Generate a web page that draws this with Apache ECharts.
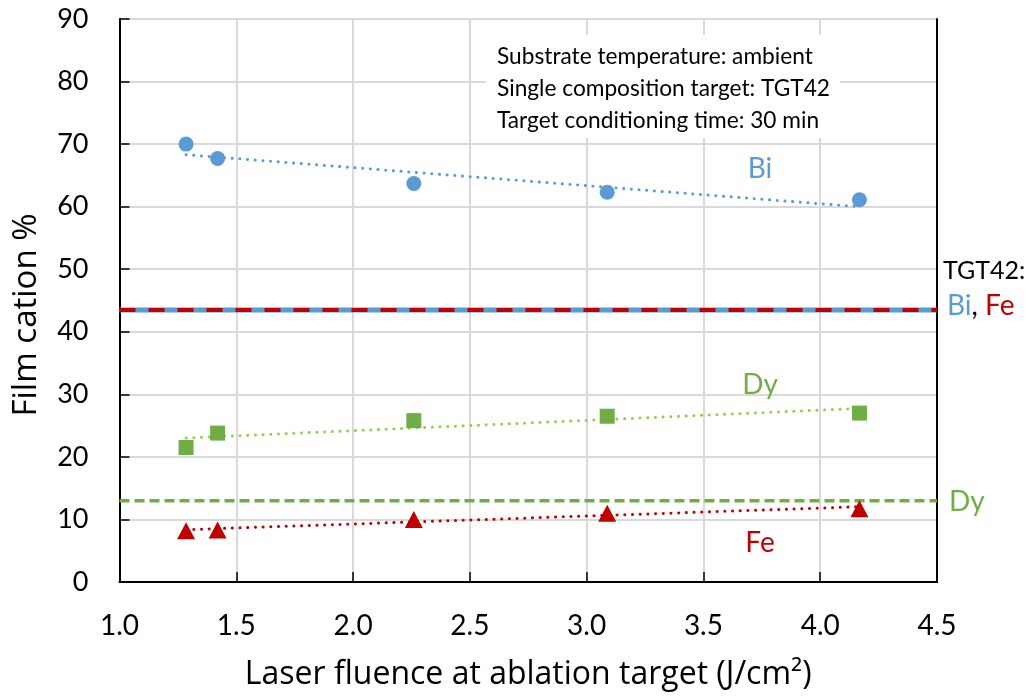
<!DOCTYPE html>
<html><head><meta charset="utf-8">
<script src="https://cdn.jsdelivr.net/npm/echarts@6/dist/echarts.min.js"></script>
<style>html,body{margin:0;padding:0;background:#fff}#c{width:1034px;height:698px}</style>
</head><body><div id="c"></div>
<script>
// Data
const fluenceBi = [1.285, 1.42, 2.26, 3.088, 4.168];
const valuesBi  = [70.0, 67.7, 63.7, 62.3, 61.1];
const fluenceDy = [1.285, 1.42, 2.26, 3.088, 4.168];
const valuesDy  = [21.5, 23.8, 25.8, 26.5, 27.0];
const fluenceFe = [1.285, 1.42, 2.26, 3.088, 4.168];
const valuesFe  = [8.2, 8.3, 10.0, 11.0, 11.7];
const targetBiFe = 43.5;   // TGT42 Bi, Fe composition
const targetDy = 13.0;     // TGT42 Dy composition
const xRange = [1.0, 4.5];
const yRange = [0, 90];

function pairs(xs, ys){ return xs.map((x,i)=>[x, ys[i]]); }
function trend(xs, ys){
  const n = xs.length;
  const mx = xs.reduce((a,b)=>a+b,0)/n, my = ys.reduce((a,b)=>a+b,0)/n;
  let sxy=0, sxx=0;
  for(let i=0;i<n;i++){ sxy+=(xs[i]-mx)*(ys[i]-my); sxx+=(xs[i]-mx)**2; }
  const b = sxy/sxx, a = my - b*mx;
  const x0 = Math.min(...xs), x1 = Math.max(...xs);
  return [[x0, a+b*x0],[x1, a+b*x1]];
}

const BLUE='#5B9BD5', RED='#C00000', GREEN='#70AD47', LGREEN='#92D050';
const FONT='Lato';
const chart = echarts.init(document.getElementById('c'), null, {renderer:'canvas'});
const dotted = (c)=>({color:c, width:3, type:[0.1,7.6], cap:'round'});

chart.setOption({
  animation:false,
  grid:{left:119.5, right:97, top:19, bottom:116},
  xAxis:{type:'value', min:xRange[0], max:xRange[1], interval:0.5,
    name:'Laser fluence at ablation target (J/cm²)', nameLocation:'middle', nameGap:77,
    nameTextStyle:{fontFamily:'Open Sans', fontSize:32, color:'#000'},
    axisLine:{lineStyle:{color:'#000', width:2}},
    axisTick:{inside:true, length:10, lineStyle:{color:'#000', width:1.5}},
    axisLabel:{fontFamily:FONT, fontSize:28, color:'#000', margin:44, verticalAlign:'middle', formatter:v=>v.toFixed(1)},
    splitLine:{show:true, lineStyle:{color:'#D9D9D9', width:2}}
  },
  yAxis:[{type:'value', min:yRange[0], max:yRange[1], interval:10,
    axisLine:{show:true, lineStyle:{color:'#000', width:2}},
    axisTick:{show:true, inside:true, length:10, lineStyle:{color:'#000', width:1.5}},
    axisLabel:{fontFamily:FONT, fontSize:27, color:'#000', margin:31},
    splitLine:{show:true, lineStyle:{color:'#D9D9D9', width:2}}
  },{type:'value', min:yRange[0], max:yRange[1], interval:10, position:'right',
    axisLine:{show:true, lineStyle:{color:'#000', width:2}},
    axisTick:{show:false}, axisLabel:{show:false}, splitLine:{show:false}
  }],
  series:[
    {type:'line', data:[[xRange[0],targetBiFe],[xRange[1],targetBiFe]], symbol:'none', lineStyle:{color:BLUE, width:5}, z:2},
    {type:'line', data:[[xRange[0],targetBiFe],[xRange[1],targetBiFe]], symbol:'none', lineStyle:{color:RED, width:4, type:[16,13]}, z:3},
    {type:'line', data:[[xRange[0],targetDy],[xRange[1],targetDy]], symbol:'none', lineStyle:{color:GREEN, width:3.5, type:[10,5]}, z:2},
    {type:'line', data:trend(fluenceBi, valuesBi), symbol:'none', lineStyle:dotted(BLUE), z:4},
    {type:'line', data:trend(fluenceDy, valuesDy), symbol:'none', lineStyle:dotted(LGREEN), z:4},
    {type:'line', data:trend(fluenceFe, valuesFe), symbol:'none', lineStyle:dotted(RED), z:4},
    {type:'scatter', data:pairs(fluenceBi, valuesBi), symbol:'circle', symbolSize:15, itemStyle:{color:BLUE, opacity:1}, z:5},
    {type:'scatter', data:pairs(fluenceDy, valuesDy), symbol:'rect', symbolSize:15, itemStyle:{color:GREEN, opacity:1}, z:5},
    {type:'scatter', data:pairs(fluenceFe, valuesFe), symbol:'triangle', symbolSize:[18,17], itemStyle:{color:RED, opacity:1}, z:5}
  ],
  graphic:[
    {type:'rect', z:50, shape:{x:486, y:35, width:354, height:103}, style:{fill:'#fff'}},
    {type:'text', z:100, x:27, y:315, rotation:Math.PI/2, style:{text:'Film cation %', font:'33px "Open Sans"', fill:'#000', align:'center', verticalAlign:'middle'}},
    {type:'text', z:100, x:497, y:57, style:{text:'Substrate temperature: ambient', font:'22.7px Lato', fill:'#000', verticalAlign:'middle'}},
    {type:'text', z:100, x:497, y:89, style:{text:'Single composition target: TGT42', font:'22.7px Lato', fill:'#000', verticalAlign:'middle'}},
    {type:'text', z:100, x:497, y:121, style:{text:'Target conditioning time: 30 min', font:'22.7px Lato', fill:'#000', verticalAlign:'middle'}},
    {type:'text', z:100, x:760, y:169, style:{text:'Bi', font:'28px Lato', fill:BLUE, align:'center', verticalAlign:'middle'}},
    {type:'text', z:100, x:760, y:385, style:{text:'Dy', font:'28px Lato', fill:GREEN, align:'center', verticalAlign:'middle'}},
    {type:'text', z:100, x:760, y:543, style:{text:'Fe', font:'28px Lato', fill:RED, align:'center', verticalAlign:'middle'}},
    {type:'text', z:100, x:943, y:271, style:{text:'TGT42:', font:'25px Lato', fill:'#000', verticalAlign:'middle'}},
    {type:'text', z:100, x:947, y:306, style:{rich:{b:{fill:BLUE, font:'28px Lato'}, k:{fill:'#000', font:'28px Lato'}, r:{fill:RED, font:'28px Lato'}}, text:'{b|Bi}{k|, }{r|Fe}', verticalAlign:'middle'}},
    {type:'text', z:100, x:949, y:502, style:{text:'Dy', font:'28px Lato', fill:GREEN, verticalAlign:'middle'}}
  ]
});
</script></body></html>
